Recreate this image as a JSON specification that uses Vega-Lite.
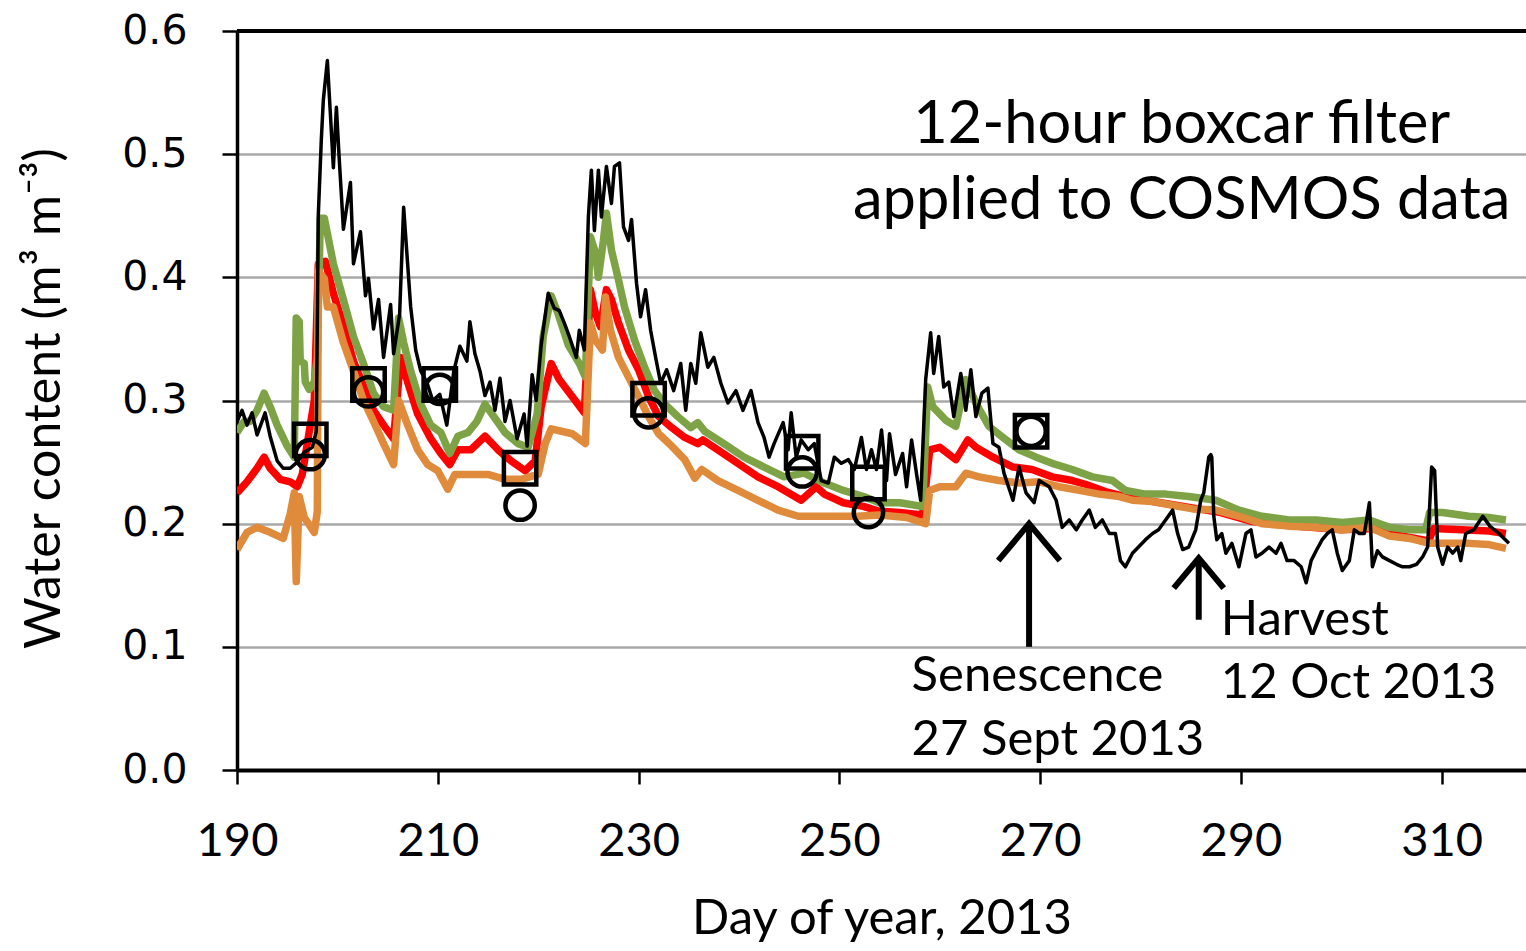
{
  "$schema": "https://vega.github.io/schema/vega-lite/v6.json",
  "width": 1289,
  "height": 739,
  "autosize": {"type": "none"},
  "padding": {"left": 237, "top": 31, "right": 0, "bottom": 181},
  "background": "white",
  "config": {"view": {"stroke": null}},
  "datasets": {
    "cosmos": [
      {"d":190.0,"v":0.283},{"d":190.5,"v":0.292},{"d":191.0,"v":0.280},{"d":191.5,"v":0.290},{"d":192.0,"v":0.272},{"d":192.8,"v":0.290},{"d":193.3,"v":0.271},{"d":194.0,"v":0.251},{"d":194.6,"v":0.245},{"d":195.3,"v":0.245},{"d":196.0,"v":0.250},{"d":196.7,"v":0.258},{"d":197.5,"v":0.262},{"d":197.9,"v":0.275},{"d":198.1,"v":0.451},{"d":198.4,"v":0.512},{"d":198.6,"v":0.544},{"d":199.0,"v":0.576},{"d":199.3,"v":0.533},{"d":199.6,"v":0.489},{"d":199.9,"v":0.538},{"d":200.2,"v":0.494},{"d":200.6,"v":0.439},{"d":201.3,"v":0.477},{"d":201.6,"v":0.411},{"d":202.3,"v":0.437},{"d":202.8,"v":0.385},{"d":203.1,"v":0.399},{"d":203.6,"v":0.358},{"d":204.1,"v":0.382},{"d":204.6,"v":0.335},{"d":205.3,"v":0.378},{"d":205.6,"v":0.338},{"d":206.2,"v":0.370},{"d":206.6,"v":0.457},{"d":206.9,"v":0.422},{"d":207.3,"v":0.376},{"d":207.8,"v":0.341},{"d":208.3,"v":0.324},{"d":208.9,"v":0.315},{"d":209.5,"v":0.300},{"d":210.2,"v":0.305},{"d":210.9,"v":0.280},{"d":211.6,"v":0.324},{"d":212.2,"v":0.344},{"d":212.9,"v":0.332},{"d":213.2,"v":0.364},{"d":213.7,"v":0.338},{"d":214.2,"v":0.324},{"d":214.7,"v":0.304},{"d":215.2,"v":0.315},{"d":215.7,"v":0.292},{"d":216.2,"v":0.318},{"d":216.7,"v":0.283},{"d":217.2,"v":0.300},{"d":217.9,"v":0.269},{"d":218.6,"v":0.289},{"d":218.9,"v":0.263},{"d":219.4,"v":0.321},{"d":219.8,"v":0.300},{"d":220.3,"v":0.345},{"d":221.0,"v":0.387},{"d":221.6,"v":0.375},{"d":222.1,"v":0.373},{"d":222.6,"v":0.363},{"d":223.1,"v":0.352},{"d":223.8,"v":0.335},{"d":224.1,"v":0.357},{"d":224.6,"v":0.341},{"d":225.0,"v":0.449},{"d":225.3,"v":0.487},{"d":225.6,"v":0.438},{"d":226.0,"v":0.487},{"d":226.3,"v":0.449},{"d":226.8,"v":0.490},{"d":227.3,"v":0.460},{"d":227.6,"v":0.490},{"d":228.1,"v":0.493},{"d":228.5,"v":0.441},{"d":229.0,"v":0.430},{"d":229.3,"v":0.447},{"d":229.8,"v":0.395},{"d":230.2,"v":0.368},{"d":230.7,"v":0.390},{"d":231.2,"v":0.357},{"d":231.7,"v":0.335},{"d":232.2,"v":0.314},{"d":232.8,"v":0.325},{"d":233.5,"v":0.308},{"d":234.2,"v":0.330},{"d":234.7,"v":0.292},{"d":235.2,"v":0.330},{"d":235.7,"v":0.314},{"d":236.2,"v":0.355},{"d":236.9,"v":0.327},{"d":237.5,"v":0.335},{"d":238.2,"v":0.314},{"d":238.9,"v":0.298},{"d":239.7,"v":0.308},{"d":240.4,"v":0.292},{"d":241.2,"v":0.308},{"d":241.9,"v":0.282},{"d":242.5,"v":0.270},{"d":243.0,"v":0.254},{"d":243.5,"v":0.265},{"d":244.4,"v":0.282},{"d":244.9,"v":0.260},{"d":245.2,"v":0.290},{"d":245.7,"v":0.254},{"d":246.2,"v":0.268},{"d":246.9,"v":0.260},{"d":247.5,"v":0.265},{"d":248.2,"v":0.235},{"d":248.9,"v":0.233},{"d":249.5,"v":0.254},{"d":250.2,"v":0.249},{"d":250.9,"v":0.252},{"d":251.5,"v":0.244},{"d":252.2,"v":0.270},{"d":252.7,"v":0.244},{"d":253.2,"v":0.260},{"d":253.7,"v":0.244},{"d":254.2,"v":0.276},{"d":254.7,"v":0.235},{"d":255.0,"v":0.273},{"d":255.6,"v":0.240},{"d":256.3,"v":0.257},{"d":256.7,"v":0.230},{"d":257.2,"v":0.268},{"d":257.7,"v":0.240},{"d":258.1,"v":0.219},{"d":258.6,"v":0.317},{"d":259.1,"v":0.355},{"d":259.4,"v":0.322},{"d":259.9,"v":0.352},{"d":260.4,"v":0.311},{"d":260.9,"v":0.315},{"d":261.4,"v":0.287},{"d":262.1,"v":0.322},{"d":262.6,"v":0.292},{"d":263.1,"v":0.325},{"d":263.6,"v":0.287},{"d":264.2,"v":0.306},{"d":264.8,"v":0.310},{"d":265.3,"v":0.265},{"d":265.9,"v":0.262},{"d":266.4,"v":0.241},{"d":267.3,"v":0.219},{"d":267.9,"v":0.246},{"d":268.6,"v":0.225},{"d":269.4,"v":0.217},{"d":269.9,"v":0.235},{"d":270.9,"v":0.230},{"d":271.6,"v":0.219},{"d":272.2,"v":0.197},{"d":272.9,"v":0.203},{"d":273.6,"v":0.195},{"d":274.2,"v":0.203},{"d":274.9,"v":0.211},{"d":275.5,"v":0.197},{"d":276.2,"v":0.203},{"d":276.9,"v":0.192},{"d":277.5,"v":0.192},{"d":278.0,"v":0.170},{"d":278.5,"v":0.165},{"d":279.2,"v":0.176},{"d":279.8,"v":0.181},{"d":280.5,"v":0.187},{"d":281.2,"v":0.192},{"d":281.8,"v":0.195},{"d":282.5,"v":0.203},{"d":283.2,"v":0.211},{"d":283.7,"v":0.192},{"d":284.2,"v":0.179},{"d":284.8,"v":0.181},{"d":285.5,"v":0.195},{"d":286.0,"v":0.219},{"d":286.3,"v":0.225},{"d":286.8,"v":0.254},{"d":287.0,"v":0.256},{"d":287.1,"v":0.254},{"d":287.3,"v":0.206},{"d":287.6,"v":0.187},{"d":288.1,"v":0.192},{"d":288.5,"v":0.176},{"d":289.1,"v":0.184},{"d":289.8,"v":0.165},{"d":290.5,"v":0.192},{"d":291.0,"v":0.195},{"d":291.5,"v":0.173},{"d":292.1,"v":0.176},{"d":292.8,"v":0.181},{"d":293.5,"v":0.176},{"d":294.0,"v":0.184},{"d":294.6,"v":0.170},{"d":295.3,"v":0.170},{"d":296.0,"v":0.165},{"d":296.5,"v":0.152},{"d":297.0,"v":0.170},{"d":297.5,"v":0.178},{"d":298.1,"v":0.187},{"d":298.6,"v":0.192},{"d":299.1,"v":0.195},{"d":299.6,"v":0.176},{"d":300.1,"v":0.162},{"d":300.8,"v":0.170},{"d":301.3,"v":0.195},{"d":301.8,"v":0.192},{"d":302.3,"v":0.192},{"d":302.8,"v":0.217},{"d":303.1,"v":0.165},{"d":303.6,"v":0.178},{"d":304.1,"v":0.173},{"d":304.8,"v":0.170},{"d":305.5,"v":0.167},{"d":306.1,"v":0.165},{"d":306.8,"v":0.165},{"d":307.5,"v":0.167},{"d":308.1,"v":0.173},{"d":308.6,"v":0.181},{"d":309.0,"v":0.246},{"d":309.3,"v":0.243},{"d":309.6,"v":0.181},{"d":310.1,"v":0.167},{"d":310.6,"v":0.181},{"d":311.1,"v":0.176},{"d":311.6,"v":0.181},{"d":311.9,"v":0.170},{"d":312.4,"v":0.192},{"d":313.2,"v":0.195},{"d":314.1,"v":0.206},{"d":314.8,"v":0.198},{"d":315.7,"v":0.192},{"d":316.7,"v":0.184}
    ],
    "green": [
      {"d":190.0,"v":0.274},{"d":190.7,"v":0.283},{"d":191.3,"v":0.283},{"d":192.0,"v":0.292},{"d":192.7,"v":0.306},{"d":193.3,"v":0.295},{"d":194.0,"v":0.280},{"d":195.0,"v":0.263},{"d":195.7,"v":0.254},{"d":195.9,"v":0.367},{"d":196.2,"v":0.364},{"d":196.3,"v":0.332},{"d":196.7,"v":0.330},{"d":196.8,"v":0.315},{"d":197.2,"v":0.309},{"d":197.7,"v":0.315},{"d":198.0,"v":0.335},{"d":198.3,"v":0.448},{"d":198.7,"v":0.448},{"d":199.6,"v":0.411},{"d":200.6,"v":0.382},{"d":201.6,"v":0.352},{"d":202.6,"v":0.330},{"d":203.6,"v":0.306},{"d":204.6,"v":0.295},{"d":205.6,"v":0.292},{"d":206.1,"v":0.367},{"d":206.6,"v":0.347},{"d":207.3,"v":0.324},{"d":208.3,"v":0.297},{"d":209.3,"v":0.280},{"d":210.3,"v":0.274},{"d":211.2,"v":0.257},{"d":212.0,"v":0.271},{"d":213.0,"v":0.274},{"d":213.9,"v":0.283},{"d":214.7,"v":0.297},{"d":215.4,"v":0.289},{"d":216.7,"v":0.274},{"d":218.0,"v":0.265},{"d":219.0,"v":0.262},{"d":219.9,"v":0.289},{"d":220.5,"v":0.352},{"d":221.3,"v":0.385},{"d":222.0,"v":0.370},{"d":223.0,"v":0.345},{"d":224.1,"v":0.330},{"d":224.7,"v":0.319},{"d":225.2,"v":0.433},{"d":225.7,"v":0.420},{"d":226.0,"v":0.400},{"d":226.5,"v":0.430},{"d":226.8,"v":0.452},{"d":227.3,"v":0.422},{"d":228.0,"v":0.398},{"d":228.6,"v":0.376},{"d":229.6,"v":0.349},{"d":230.6,"v":0.327},{"d":231.6,"v":0.308},{"d":232.5,"v":0.298},{"d":233.9,"v":0.287},{"d":235.2,"v":0.278},{"d":235.9,"v":0.282},{"d":236.6,"v":0.275},{"d":238.5,"v":0.265},{"d":240.5,"v":0.254},{"d":242.5,"v":0.246},{"d":244.5,"v":0.238},{"d":246.5,"v":0.241},{"d":248.5,"v":0.233},{"d":250.4,"v":0.227},{"d":252.4,"v":0.222},{"d":254.0,"v":0.217},{"d":256.0,"v":0.217},{"d":258.3,"v":0.214},{"d":258.8,"v":0.311},{"d":259.3,"v":0.295},{"d":260.6,"v":0.284},{"d":261.6,"v":0.279},{"d":262.6,"v":0.317},{"d":263.6,"v":0.298},{"d":264.9,"v":0.279},{"d":266.3,"v":0.270},{"d":267.9,"v":0.260},{"d":269.6,"v":0.254},{"d":271.2,"v":0.249},{"d":273.2,"v":0.244},{"d":275.2,"v":0.238},{"d":277.2,"v":0.235},{"d":278.5,"v":0.227},{"d":280.5,"v":0.224},{"d":282.5,"v":0.224},{"d":284.8,"v":0.222},{"d":287.5,"v":0.219},{"d":289.8,"v":0.211},{"d":292.1,"v":0.206},{"d":294.8,"v":0.203},{"d":297.5,"v":0.203},{"d":300.1,"v":0.201},{"d":302.8,"v":0.203},{"d":304.8,"v":0.197},{"d":306.8,"v":0.195},{"d":308.4,"v":0.195},{"d":308.8,"v":0.209},{"d":310.1,"v":0.209},{"d":312.7,"v":0.206},{"d":314.7,"v":0.205},{"d":316.4,"v":0.203}
    ],
    "red": [
      {"d":190.0,"v":0.225},{"d":191.0,"v":0.234},{"d":192.0,"v":0.245},{"d":192.7,"v":0.254},{"d":193.3,"v":0.245},{"d":194.3,"v":0.236},{"d":195.3,"v":0.234},{"d":196.0,"v":0.230},{"d":196.5,"v":0.240},{"d":197.0,"v":0.265},{"d":197.7,"v":0.300},{"d":198.1,"v":0.411},{"d":198.8,"v":0.413},{"d":199.6,"v":0.387},{"d":200.6,"v":0.361},{"d":201.6,"v":0.332},{"d":202.6,"v":0.312},{"d":203.6,"v":0.292},{"d":204.6,"v":0.280},{"d":205.6,"v":0.269},{"d":206.3,"v":0.335},{"d":207.0,"v":0.315},{"d":208.0,"v":0.289},{"d":209.3,"v":0.269},{"d":210.3,"v":0.257},{"d":211.2,"v":0.248},{"d":212.0,"v":0.260},{"d":213.3,"v":0.260},{"d":214.7,"v":0.271},{"d":216.0,"v":0.260},{"d":217.3,"v":0.251},{"d":218.7,"v":0.243},{"d":219.7,"v":0.251},{"d":220.3,"v":0.295},{"d":221.3,"v":0.330},{"d":222.1,"v":0.317},{"d":223.4,"v":0.303},{"d":224.6,"v":0.290},{"d":225.2,"v":0.390},{"d":225.7,"v":0.371},{"d":226.2,"v":0.360},{"d":226.8,"v":0.390},{"d":227.3,"v":0.382},{"d":228.0,"v":0.363},{"d":229.0,"v":0.341},{"d":230.0,"v":0.325},{"d":231.0,"v":0.303},{"d":232.0,"v":0.287},{"d":233.3,"v":0.278},{"d":234.6,"v":0.270},{"d":235.9,"v":0.265},{"d":236.4,"v":0.268},{"d":237.9,"v":0.260},{"d":239.9,"v":0.249},{"d":241.9,"v":0.238},{"d":243.9,"v":0.230},{"d":246.2,"v":0.219},{"d":247.7,"v":0.230},{"d":248.5,"v":0.224},{"d":250.4,"v":0.217},{"d":252.4,"v":0.214},{"d":254.0,"v":0.210},{"d":256.0,"v":0.209},{"d":258.3,"v":0.207},{"d":259.0,"v":0.260},{"d":260.0,"v":0.262},{"d":261.6,"v":0.252},{"d":262.8,"v":0.268},{"d":263.6,"v":0.262},{"d":265.3,"v":0.254},{"d":267.3,"v":0.246},{"d":269.2,"v":0.244},{"d":271.2,"v":0.238},{"d":273.2,"v":0.235},{"d":274.5,"v":0.232},{"d":276.5,"v":0.226},{"d":279.0,"v":0.221},{"d":282.0,"v":0.217},{"d":285.0,"v":0.213},{"d":288.0,"v":0.209},{"d":291.0,"v":0.202},{"d":294.0,"v":0.199},{"d":297.0,"v":0.197},{"d":300.0,"v":0.195},{"d":303.0,"v":0.196},{"d":306.0,"v":0.190},{"d":308.7,"v":0.186},{"d":309.2,"v":0.196},{"d":312.0,"v":0.195},{"d":314.7,"v":0.194},{"d":316.4,"v":0.192}
    ],
    "orange": [
      {"d":190.0,"v":0.179},{"d":191.0,"v":0.193},{"d":192.0,"v":0.197},{"d":193.3,"v":0.193},{"d":194.6,"v":0.188},{"d":195.3,"v":0.208},{"d":195.7,"v":0.225},{"d":195.9,"v":0.153},{"d":196.2,"v":0.222},{"d":196.7,"v":0.205},{"d":197.2,"v":0.199},{"d":197.7,"v":0.193},{"d":198.0,"v":0.210},{"d":198.1,"v":0.405},{"d":198.7,"v":0.399},{"d":199.0,"v":0.376},{"d":199.6,"v":0.376},{"d":200.6,"v":0.347},{"d":201.6,"v":0.324},{"d":202.6,"v":0.300},{"d":203.6,"v":0.283},{"d":204.6,"v":0.265},{"d":205.6,"v":0.248},{"d":206.1,"v":0.300},{"d":207.0,"v":0.280},{"d":208.0,"v":0.260},{"d":209.0,"v":0.248},{"d":210.0,"v":0.243},{"d":211.0,"v":0.228},{"d":211.7,"v":0.240},{"d":213.3,"v":0.240},{"d":215.0,"v":0.240},{"d":216.7,"v":0.236},{"d":218.3,"v":0.236},{"d":220.0,"v":0.240},{"d":220.7,"v":0.265},{"d":221.3,"v":0.277},{"d":223.4,"v":0.273},{"d":224.7,"v":0.265},{"d":225.2,"v":0.363},{"d":225.7,"v":0.349},{"d":226.4,"v":0.341},{"d":226.7,"v":0.384},{"d":227.2,"v":0.357},{"d":228.0,"v":0.335},{"d":229.0,"v":0.319},{"d":230.0,"v":0.303},{"d":231.0,"v":0.287},{"d":232.0,"v":0.273},{"d":233.3,"v":0.263},{"d":234.6,"v":0.252},{"d":235.6,"v":0.237},{"d":236.3,"v":0.244},{"d":237.9,"v":0.235},{"d":239.9,"v":0.227},{"d":241.9,"v":0.219},{"d":243.9,"v":0.211},{"d":245.9,"v":0.206},{"d":248.5,"v":0.206},{"d":251.8,"v":0.206},{"d":254.0,"v":0.207},{"d":256.7,"v":0.205},{"d":258.6,"v":0.200},{"d":259.0,"v":0.227},{"d":260.0,"v":0.230},{"d":261.6,"v":0.230},{"d":262.6,"v":0.241},{"d":263.9,"v":0.238},{"d":265.9,"v":0.235},{"d":267.9,"v":0.233},{"d":269.9,"v":0.234},{"d":271.9,"v":0.230},{"d":273.9,"v":0.227},{"d":275.9,"v":0.224},{"d":277.9,"v":0.222},{"d":279.2,"v":0.219},{"d":281.2,"v":0.218},{"d":283.2,"v":0.215},{"d":285.2,"v":0.212},{"d":287.5,"v":0.211},{"d":289.8,"v":0.206},{"d":292.1,"v":0.200},{"d":294.8,"v":0.198},{"d":297.5,"v":0.197},{"d":300.1,"v":0.195},{"d":302.8,"v":0.197},{"d":304.8,"v":0.190},{"d":306.8,"v":0.188},{"d":308.8,"v":0.184},{"d":310.1,"v":0.184},{"d":312.7,"v":0.184},{"d":314.7,"v":0.183},{"d":316.4,"v":0.180}
    ],
    "squares": [
      {"d":197.3,"v":0.268},{"d":203.1,"v":0.313},{"d":210.2,"v":0.313},{"d":218.2,"v":0.245},{"d":231.0,"v":0.301},{"d":246.3,"v":0.258},{"d":252.9,"v":0.233},{"d":269.1,"v":0.275}
    ],
    "circles": [
      {"d":197.3,"v":0.256},{"d":203.1,"v":0.307},{"d":210.2,"v":0.309},{"d":218.2,"v":0.215},{"d":231.0,"v":0.290},{"d":246.3,"v":0.242},{"d":252.9,"v":0.209},{"d":269.1,"v":0.275}
    ],
    "arrows": [
      {"event":"Senescence","d":268.9,"v1":0.1,"v2":0.2},
      {"event":"Harvest","d":285.8,"v1":0.122,"v2":0.172}
    ],
    "notes": [
      {"kind":"title","d":284.1,"v":0.524,"t":"12-hour boxcar filter"},
      {"kind":"title","d":284.1,"v":0.462,"t":"applied to COSMOS data"},
      {"kind":"event","d":257.2,"v":0.076,"t":"Senescence"},
      {"kind":"event","d":257.2,"v":0.024,"t":"27 Sept 2013"},
      {"kind":"event","d":288.0,"v":0.122,"t":"Harvest"},
      {"kind":"event","d":288.0,"v":0.071,"t":"12 Oct 2013"}
    ]
  },
  "layer": [
    {
      "data": {"name": "red"},
      "mark": {"type": "line", "color": "#ff0000", "strokeWidth": 7.5, "strokeJoin": "round", "clip": true},
      "encoding": {
        "x": {"field": "d", "type": "quantitative",
          "scale": {"domain": [190, 318.4], "nice": false, "zero": false},
          "axis": {
            "values": [190, 210, 230, 250, 270, 290, 310],
            "format": "d",
            "grid": false,
            "domainColor": "black", "domainWidth": 4,
            "tickColor": "black", "tickWidth": 2.5, "tickSize": 14,
            "labelFont": "Lato", "labelFontSize": 47, "labelColor": "black", "labelPadding": 34,
            "labelFlush": false, "labelOverlap": false,
            "title": "Day of year, 2013",
            "titleFont": "Lato", "titleFontSize": 49, "titleFontWeight": "normal", "titleColor": "black",
            "titlePadding": 30
          }
        },
        "y": {"field": "v", "type": "quantitative",
          "scale": {"domain": [0, 0.6], "nice": false, "zero": true},
          "axis": {
            "values": [0, 0.1, 0.2, 0.3, 0.4, 0.5, 0.6],
            "format": ".1f",
            "grid": true, "gridColor": "#a8a8a8", "gridWidth": 2.5,
            "domainColor": "black", "domainWidth": 3.5,
            "tickColor": "black", "tickWidth": 2.5, "tickSize": 15,
            "labelFont": "DejaVu Sans", "labelFontSize": 41, "labelColor": "black", "labelPadding": 35,
            "labelFlush": false, "labelOverlap": false,
            "title": "Water content (m³ m⁻³)",
            "titleFont": "Lato", "titleFontSize": 50, "titleFontWeight": "normal", "titleColor": "black",
            "titleAngle": -90, "titleX": -193, "titleY": 367, "titleAlign": "center", "titleBaseline": "middle"
          }
        }
      }
    },
    {
      "data": {"name": "green"},
      "mark": {"type": "line", "color": "#7da346", "strokeWidth": 7.5, "strokeJoin": "round", "clip": true},
      "encoding": {"x": {"field": "d", "type": "quantitative"}, "y": {"field": "v", "type": "quantitative"}}
    },
    {
      "data": {"name": "orange"},
      "mark": {"type": "line", "color": "#e08a3c", "strokeWidth": 7.5, "strokeJoin": "round", "clip": true},
      "encoding": {"x": {"field": "d", "type": "quantitative"}, "y": {"field": "v", "type": "quantitative"}}
    },
    {
      "data": {"name": "cosmos"},
      "mark": {"type": "line", "color": "#000000", "strokeWidth": 3.5, "strokeJoin": "round", "clip": true},
      "encoding": {"x": {"field": "d", "type": "quantitative"}, "y": {"field": "v", "type": "quantitative"}}
    },
    {
      "data": {"name": "squares"},
      "mark": {"type": "point", "shape": "square", "filled": false, "stroke": "black", "strokeWidth": 4.5, "size": 1050, "opacity": 1},
      "encoding": {"x": {"field": "d", "type": "quantitative"}, "y": {"field": "v", "type": "quantitative"}}
    },
    {
      "data": {"name": "circles"},
      "mark": {"type": "point", "shape": "circle", "filled": false, "stroke": "black", "strokeWidth": 4.5, "size": 860, "opacity": 1},
      "encoding": {"x": {"field": "d", "type": "quantitative"}, "y": {"field": "v", "type": "quantitative"}}
    },
    {
      "data": {"values": [{"v": 0.6}]},
      "mark": {"type": "rule", "color": "black", "strokeWidth": 4},
      "encoding": {"y": {"field": "v", "type": "quantitative"}}
    },
    {
      "data": {"name": "arrows"},
      "mark": {"type": "rule", "color": "black", "strokeWidth": 6},
      "encoding": {
        "x": {"field": "d", "type": "quantitative"},
        "y": {"field": "v1", "type": "quantitative"},
        "y2": {"field": "v2"}
      }
    },
    {
      "data": {"name": "arrows"},
      "transform": [{"filter": "datum.event == 'Senescence'"}],
      "mark": {"type": "point", "shape": "M-1,1.2L0,0L1,1.2", "filled": false, "stroke": "black", "strokeWidth": 6, "size": 3800, "opacity": 1, "strokeCap": "butt"},
      "encoding": {"x": {"field": "d", "type": "quantitative"}, "y": {"field": "v2", "type": "quantitative"}}
    },
    {
      "data": {"name": "arrows"},
      "transform": [{"filter": "datum.event == 'Harvest'"}],
      "mark": {"type": "point", "shape": "M-1,1.2L0,0L1,1.2", "filled": false, "stroke": "black", "strokeWidth": 6, "size": 2500, "opacity": 1, "strokeCap": "butt"},
      "encoding": {"x": {"field": "d", "type": "quantitative"}, "y": {"field": "v2", "type": "quantitative"}}
    },
    {
      "data": {"name": "notes"},
      "transform": [{"filter": "datum.kind == 'title'"}],
      "mark": {"type": "text", "font": "Lato", "fontSize": 59.5, "color": "black", "align": "center", "baseline": "middle"},
      "encoding": {"x": {"field": "d", "type": "quantitative"}, "y": {"field": "v", "type": "quantitative"}, "text": {"field": "t"}}
    },
    {
      "data": {"name": "notes"},
      "transform": [{"filter": "datum.kind == 'event'"}],
      "mark": {"type": "text", "font": "Lato", "fontSize": 49, "color": "black", "align": "left", "baseline": "middle"},
      "encoding": {"x": {"field": "d", "type": "quantitative"}, "y": {"field": "v", "type": "quantitative"}, "text": {"field": "t"}}
    }
  ]
}
